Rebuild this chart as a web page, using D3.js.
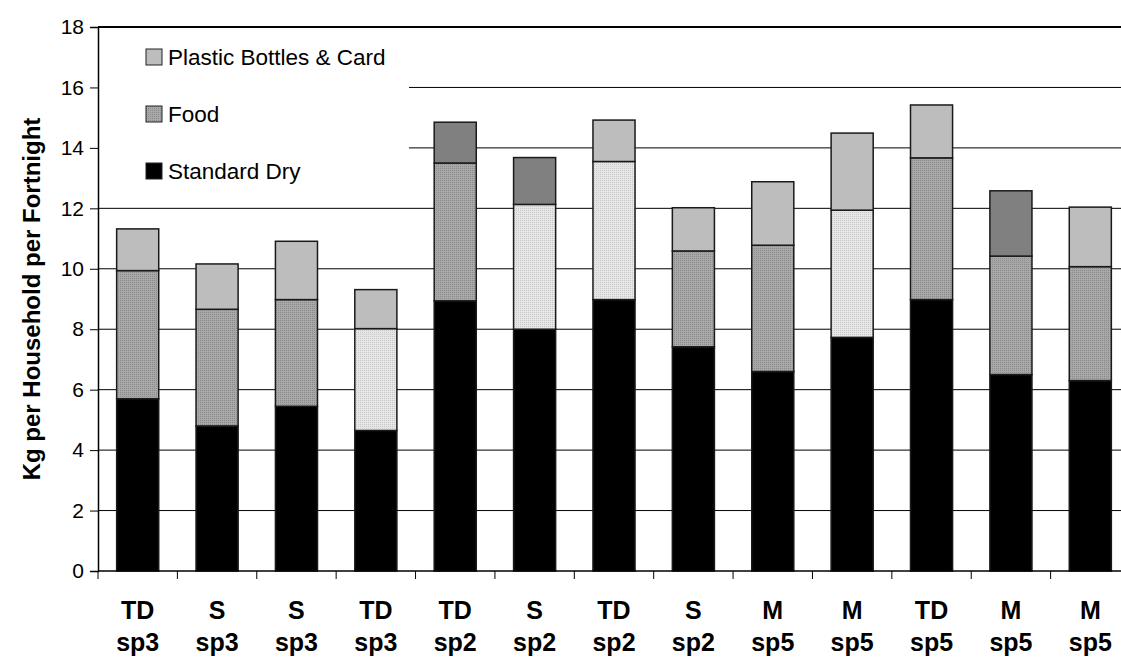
<!DOCTYPE html>
<html>
<head>
<meta charset="utf-8">
<script src="https://cdn.jsdelivr.net/npm/d3@7"></script>
<style>
  body { margin: 0; background: #fff; }
  svg { display: block; font-family: Arial, "Liberation Sans", sans-serif; }
</style>
</head>
<body>
<div id="chart"></div>
<script>
// data
var groups   = ["TD", "S", "S", "TD", "TD", "S", "TD", "S", "M", "M", "TD", "M", "M"];
var phases   = ["sp3", "sp3", "sp3", "sp3", "sp2", "sp2", "sp2", "sp2", "sp5", "sp5", "sp5", "sp5", "sp5"];
var standardDry = [5.7, 4.8, 5.45, 4.65, 8.94, 8.0, 8.98, 7.42, 6.6, 7.73, 8.98, 6.5, 6.3];
var food        = [4.24, 3.86, 3.53, 0, 4.56, 0, 0, 3.17, 4.18, 0, 4.69, 3.92, 3.77];
var lightOther  = [0, 0, 0, 3.37, 0, 4.13, 4.57, 0, 0, 4.21, 0, 0, 0];
var plastic     = [1.38, 1.5, 1.93, 1.29, 0, 0, 1.37, 1.43, 2.1, 2.55, 1.75, 0, 1.97];
var darkOther   = [0, 0, 0, 0, 1.35, 1.55, 0, 0, 0, 0, 0, 2.16, 0];
var yTicks = [0, 2, 4, 6, 8, 10, 12, 14, 16, 18];
var legendItems = ["Plastic Bottles & Card", "Food", "Standard Dry"];

var keys = ["standardDry", "food", "lightOther", "plastic", "darkOther"];
var data = groups.map(function(g, i) {
  return {
    id: i, group: g, phase: phases[i],
    standardDry: standardDry[i], food: food[i], lightOther: lightOther[i],
    plastic: plastic[i], darkOther: darkOther[i]
  };
});

var width = 1121, height = 660;
var plotLeft = 98, plotTop = 27, plotBottom = 571, plotRight = 1130;

var svg = d3.select("#chart").append("svg")
  .attr("width", width)
  .attr("height", height);

// fill patterns
var defs = svg.append("defs");
function dotPattern(id, base, dot) {
  var p = defs.append("pattern")
    .attr("id", id)
    .attr("patternUnits", "userSpaceOnUse")
    .attr("width", 2).attr("height", 2);
  p.append("rect").attr("width", 2).attr("height", 2).attr("fill", base);
  p.append("rect").attr("width", 1).attr("height", 1).attr("fill", dot);
}
dotPattern("foodPat", "#a8a8a8", "#8a8a8a");
dotPattern("lightPat", "#e6e6e6", "#c8c8c8");

var fills = {
  standardDry: "#000000",
  food: "url(#foodPat)",
  lightOther: "url(#lightPat)",
  plastic: "#bdbdbd",
  darkOther: "#808080"
};

var y = d3.scaleLinear().domain([0, 18]).range([plotBottom, plotTop]);
var x = d3.scaleBand()
  .domain(data.map(function(d) { return d.id; }))
  .range([plotLeft, plotRight])
  .paddingInner(0.47)
  .paddingOuter(0.235);

// gridlines
svg.append("g")
  .selectAll("line")
  .data(yTicks.filter(function(t) { return t > 0; }))
  .enter()
  .append("line")
    .attr("x1", plotLeft).attr("x2", width)
    .attr("y1", function(d) { return y(d); })
    .attr("y2", function(d) { return y(d); })
    .attr("stroke", "#000")
    .attr("stroke-width", function(d) { return d === 18 ? 2 : 1; });

// stacked bars
var stacked = d3.stack().keys(keys)(data);
svg.append("g")
  .selectAll("g")
  .data(stacked)
  .enter()
  .append("g")
    .attr("fill", function(s) { return fills[s.key]; })
  .selectAll("rect")
  .data(function(s) { return s.filter(function(d) { return d[1] - d[0] > 0; }); })
  .enter()
  .append("rect")
    .attr("x", function(d) { return x(d.data.id); })
    .attr("y", function(d) { return y(d[1]); })
    .attr("width", x.bandwidth())
    .attr("height", function(d) { return y(d[0]) - y(d[1]); })
    .attr("stroke", "#1a1a1a")
    .attr("stroke-width", 1.5);

// legend (white box hides the gridlines behind it)
svg.append("rect")
  .attr("x", plotLeft + 1).attr("y", plotTop + 2)
  .attr("width", 310).attr("height", 170)
  .attr("fill", "#fff");
var legendFills = [fills.plastic, fills.food, fills.standardDry];
var legend = svg.append("g")
  .selectAll("g")
  .data(legendItems)
  .enter()
  .append("g")
    .attr("transform", function(d, i) { return "translate(146," + (57 + i * 57) + ")"; });
legend.append("rect")
  .attr("x", 0).attr("y", -8)
  .attr("width", 16).attr("height", 16)
  .attr("fill", function(d, i) { return legendFills[i]; })
  .attr("stroke", "#222")
  .attr("stroke-width", 1);
legend.append("text")
  .attr("x", 22).attr("y", 8)
  .attr("font-size", 22.5)
  .attr("fill", "#000")
  .text(function(d) { return d; });

// Y axis
var yAxis = svg.append("g")
  .attr("transform", "translate(" + plotLeft + ",0)")
  .call(d3.axisLeft(y).tickValues(yTicks).tickSize(8).tickPadding(6));
yAxis.select(".domain").attr("stroke", "#000").attr("stroke-width", 1.5);
yAxis.selectAll("text").attr("font-size", 21).attr("font-family", "Arial, 'Liberation Sans', sans-serif").attr("fill", "#000");

// X axis: ticks on band boundaries
var bounds = d3.range(0, data.length + 1).map(function(i) { return plotLeft + i * x.step(); });
svg.append("line")
  .attr("x1", plotLeft).attr("x2", width)
  .attr("y1", plotBottom).attr("y2", plotBottom)
  .attr("stroke", "#000").attr("stroke-width", 1.5);
svg.append("g")
  .selectAll("line")
  .data(bounds)
  .enter()
  .append("line")
    .attr("x1", function(d) { return d; }).attr("x2", function(d) { return d; })
    .attr("y1", plotBottom).attr("y2", plotBottom + 8)
    .attr("stroke", "#000");

var xl = svg.append("g")
  .selectAll("text")
  .data(data)
  .enter()
  .append("text")
    .attr("text-anchor", "middle")
    .attr("font-size", 25)
    .attr("font-weight", "bold")
    .attr("fill", "#000");
xl.append("tspan")
  .attr("x", function(d) { return x(d.id) + x.bandwidth() / 2; })
  .attr("y", 619)
  .text(function(d) { return d.group; });
xl.append("tspan")
  .attr("x", function(d) { return x(d.id) + x.bandwidth() / 2; })
  .attr("y", 651)
  .text(function(d) { return d.phase; });

// Y axis title
svg.append("text")
  .attr("transform", "translate(40," + ((plotTop + plotBottom) / 2) + ") rotate(-90)")
  .attr("text-anchor", "middle")
  .attr("font-size", 24)
  .attr("font-weight", "bold")
  .attr("fill", "#000")
  .text("Kg per Household per Fortnight");
</script>
</body>
</html>
